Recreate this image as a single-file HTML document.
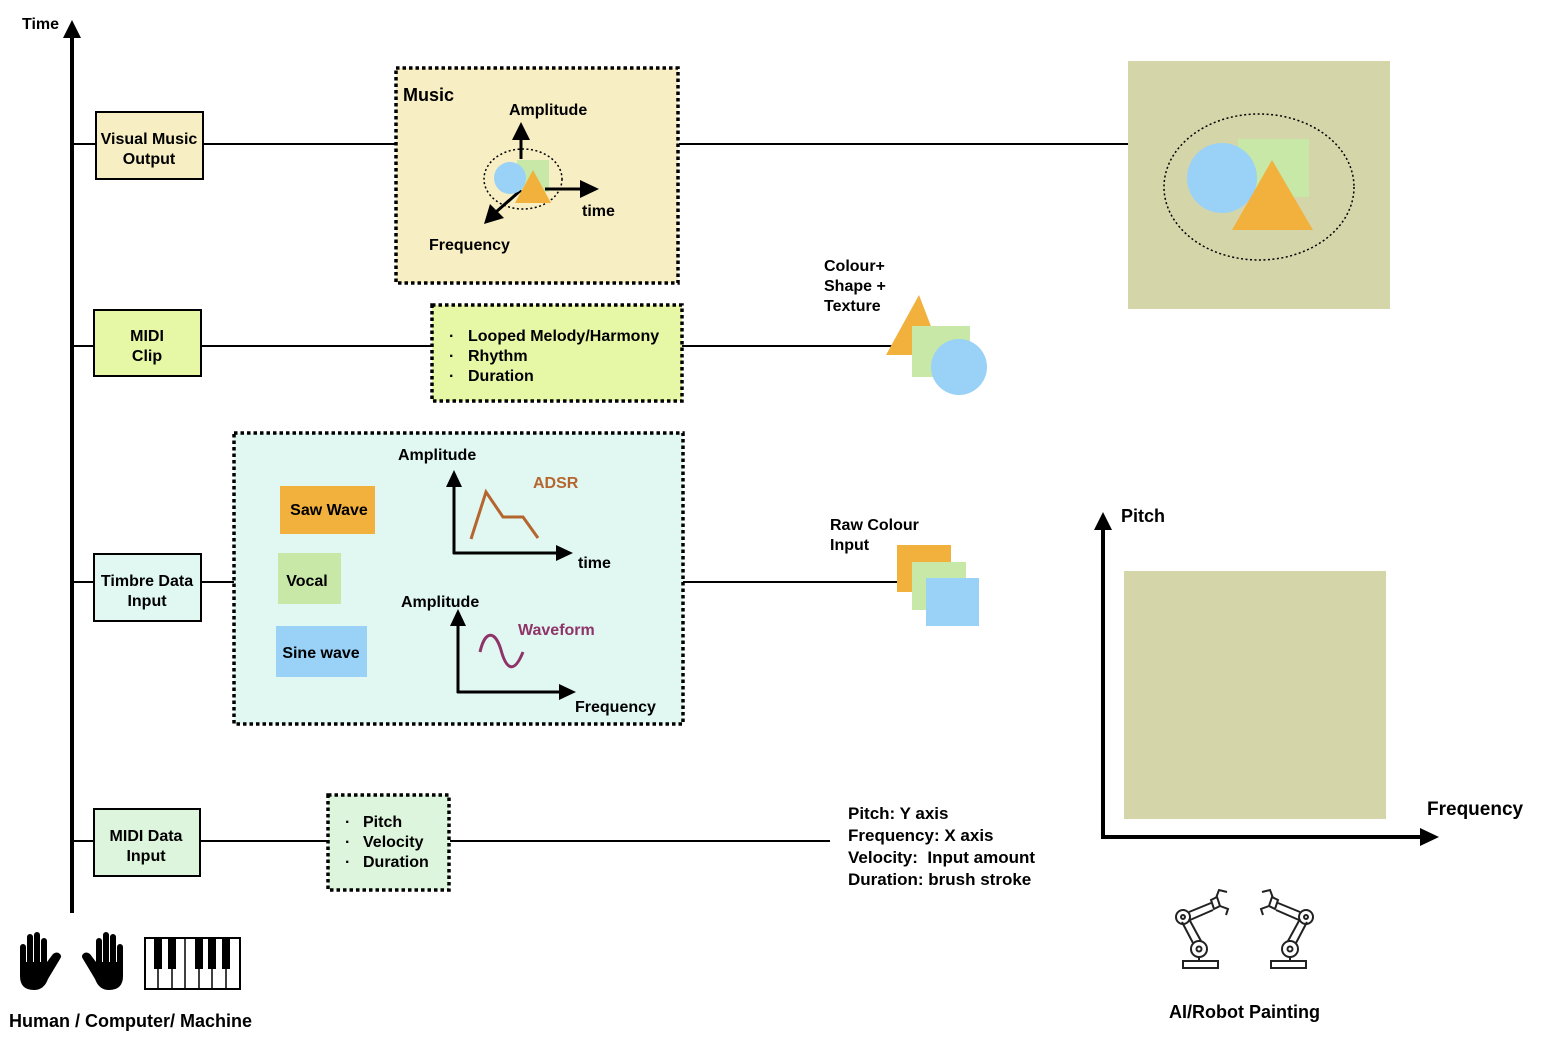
<!DOCTYPE html>
<html><head><meta charset="utf-8"><style>
html,body{margin:0;padding:0;background:#fff}
svg{display:block}
text{font-family:"Liberation Sans",sans-serif;font-weight:bold;fill:#000}
</style></head><body>
<svg width="1548" height="1050" viewBox="0 0 1548 1050" xmlns="http://www.w3.org/2000/svg">
<!-- Time axis -->
<line x1="72" y1="913" x2="72" y2="36" stroke="#000" stroke-width="4"/>
<polygon points="72,20 63,38 81,38" fill="#000"/>
<text x="22" y="29" font-size="16">Time</text>

<!-- connectors -->
<line x1="72" y1="144" x2="395" y2="144" stroke="#000" stroke-width="2"/>
<line x1="679" y1="144" x2="1128" y2="144" stroke="#000" stroke-width="2"/>
<line x1="72" y1="346" x2="432" y2="346" stroke="#000" stroke-width="2"/>
<line x1="682" y1="346" x2="892" y2="346" stroke="#000" stroke-width="2"/>
<line x1="72" y1="582" x2="234" y2="582" stroke="#000" stroke-width="2"/>
<line x1="683" y1="582" x2="897" y2="582" stroke="#000" stroke-width="2"/>
<line x1="72" y1="841" x2="327" y2="841" stroke="#000" stroke-width="2"/>
<line x1="450" y1="841" x2="830" y2="841" stroke="#000" stroke-width="2"/>

<!-- left boxes -->
<rect x="96" y="112" width="107" height="67" fill="#f7eec4" stroke="#000" stroke-width="2"/>
<text x="149" y="144" font-size="16" text-anchor="middle">Visual Music</text>
<text x="149" y="164" font-size="16" text-anchor="middle">Output</text>
<rect x="94" y="310" width="107" height="66" fill="#e6f7a6" stroke="#000" stroke-width="2"/>
<text x="147" y="341" font-size="16" text-anchor="middle">MIDI</text>
<text x="147" y="361" font-size="16" text-anchor="middle">Clip</text>
<rect x="94" y="554" width="107" height="67" fill="#e0f7f2" stroke="#000" stroke-width="2"/>
<text x="147" y="586" font-size="16" text-anchor="middle">Timbre Data</text>
<text x="147" y="606" font-size="16" text-anchor="middle">Input</text>
<rect x="94" y="809" width="106" height="67" fill="#dcf5dc" stroke="#000" stroke-width="2"/>
<text x="146" y="841" font-size="16" text-anchor="middle">MIDI Data</text>
<text x="146" y="861" font-size="16" text-anchor="middle">Input</text>

<!-- Music box -->
<rect x="396" y="68" width="282" height="215" fill="#f7eec4" stroke="#000" stroke-width="3.5" stroke-dasharray="3.5,3"/>
<text x="403" y="101" font-size="18">Music</text>
<text x="509" y="115" font-size="16">Amplitude</text>
<text x="582" y="216" font-size="16">time</text>
<text x="429" y="250" font-size="16">Frequency</text>
<rect x="517" y="160" width="32" height="32" fill="#c8e8a8"/>
<ellipse cx="523" cy="179" rx="39" ry="30" fill="none" stroke="#000" stroke-width="1.5" stroke-dasharray="2,2.5"/>
<line x1="521" y1="159" x2="521" y2="138" stroke="#000" stroke-width="3"/>
<polygon points="521,122 512,140 530,140" fill="#000"/>
<line x1="545" y1="189" x2="582" y2="189" stroke="#000" stroke-width="3"/>
<polygon points="599,189 580,180 580,198" fill="#000"/>
<line x1="521" y1="190" x2="496" y2="212" stroke="#000" stroke-width="3"/>
<polygon points="484,224 490,204 504,218" fill="#000"/>
<circle cx="510" cy="178" r="16" fill="#99d1f7"/>
<polygon points="533,170 515,203 551,203" fill="#f2b03c"/>

<!-- big painting -->
<rect x="1128" y="61" width="262" height="248" fill="#d5d5aa"/>
<rect x="1238" y="139" width="71" height="58" fill="#c8e8a8"/>
<circle cx="1222" cy="178" r="35" fill="#99d1f7"/>
<polygon points="1272,160 1232,230 1313,230" fill="#f2b03c"/>
<ellipse cx="1259" cy="187" rx="95" ry="73" fill="none" stroke="#000" stroke-width="1.5" stroke-dasharray="2,2.5"/>

<!-- MIDI clip box -->
<rect x="432" y="305" width="250" height="96" fill="#e6f7a6" stroke="#000" stroke-width="3.5" stroke-dasharray="3.5,3"/>
<text x="449" y="341" font-size="16">·</text><text x="468" y="341" font-size="16">Looped Melody/Harmony</text>
<text x="449" y="361" font-size="16">·</text><text x="468" y="361" font-size="16">Rhythm</text>
<text x="449" y="381" font-size="16">·</text><text x="468" y="381" font-size="16">Duration</text>

<!-- Colour shape texture -->
<text x="824" y="271" font-size="16">Colour+</text>
<text x="824" y="291" font-size="16">Shape +</text>
<text x="824" y="311" font-size="16">Texture</text>
<polygon points="919,295 886,355 942,355" fill="#f2b03c"/>
<rect x="912" y="326" width="58" height="51" fill="#c8e8a8"/>
<circle cx="959" cy="367" r="28" fill="#99d1f7"/>

<!-- Timbre box -->
<rect x="234" y="433" width="449" height="291" fill="#e0f7f2" stroke="#000" stroke-width="3.5" stroke-dasharray="3.5,3"/>
<rect x="280" y="486" width="95" height="48" fill="#f2b03c"/>
<text x="329" y="515" font-size="16" text-anchor="middle">Saw Wave</text>
<rect x="278" y="553" width="63" height="51" fill="#c8e8a8"/>
<text x="307" y="586" font-size="16" text-anchor="middle">Vocal</text>
<rect x="276" y="626" width="91" height="51" fill="#99d1f7"/>
<text x="321" y="658" font-size="16" text-anchor="middle">Sine wave</text>
<text x="398" y="460" font-size="16">Amplitude</text>
<line x1="454" y1="554" x2="454" y2="485" stroke="#000" stroke-width="3"/>
<polygon points="454,470 446,487 462,487" fill="#000"/>
<line x1="453" y1="553" x2="558" y2="553" stroke="#000" stroke-width="3"/>
<polygon points="573,553 556,545 556,561" fill="#000"/>
<text x="578" y="568" font-size="16">time</text>
<text x="533" y="488" font-size="16" style="fill:#b5652e">ADSR</text>
<polyline points="471,539 486,492 503,517 523,517 538,538" fill="none" stroke="#b5652e" stroke-width="3"/>
<text x="401" y="607" font-size="16">Amplitude</text>
<line x1="458" y1="693" x2="458" y2="625" stroke="#000" stroke-width="3"/>
<polygon points="458,609 450,626 466,626" fill="#000"/>
<line x1="457" y1="692" x2="560" y2="692" stroke="#000" stroke-width="3"/>
<polygon points="576,692 559,684 559,700" fill="#000"/>
<text x="575" y="712" font-size="16">Frequency</text>
<text x="518" y="635" font-size="16" style="fill:#8e3468">Waveform</text>
<path d="M480,652 C485,630 495,630 501,650 C507,672 515,672 523,652" fill="none" stroke="#8e3468" stroke-width="3"/>

<!-- Raw colour -->
<text x="830" y="530" font-size="16">Raw Colour</text>
<text x="830" y="550" font-size="16">Input</text>
<rect x="897" y="545" width="54" height="47" fill="#f2b03c"/>
<rect x="912" y="562" width="54" height="48" fill="#c8e8a8"/>
<rect x="926" y="578" width="53" height="48" fill="#99d1f7"/>

<!-- MIDI data box -->
<rect x="328" y="795" width="121" height="95" fill="#dcf5dc" stroke="#000" stroke-width="3.5" stroke-dasharray="3.5,3"/>
<text x="345" y="827" font-size="16">·</text><text x="363" y="827" font-size="16">Pitch</text>
<text x="345" y="847" font-size="16">·</text><text x="363" y="847" font-size="16">Velocity</text>
<text x="345" y="867" font-size="16">·</text><text x="363" y="867" font-size="16">Duration</text>

<text x="848" y="819" font-size="17">Pitch: Y axis</text>
<text x="848" y="841" font-size="17">Frequency: X axis</text>
<text x="848" y="863" font-size="17" xml:space="preserve">Velocity:  Input amount</text>
<text x="848" y="885" font-size="17">Duration: brush stroke</text>

<!-- Pitch/Frequency chart -->
<rect x="1124" y="571" width="262" height="248" fill="#d5d5aa"/>
<line x1="1103" y1="838" x2="1103" y2="528" stroke="#000" stroke-width="4"/>
<polygon points="1103,512 1094,530 1112,530" fill="#000"/>
<line x1="1101" y1="837" x2="1422" y2="837" stroke="#000" stroke-width="4"/>
<polygon points="1439,837 1420,828 1420,846" fill="#000"/>
<text x="1121" y="522" font-size="18">Pitch</text>
<text x="1427" y="815" font-size="19">Frequency</text>

<!-- hands -->
<g fill="#000">
<g>
<rect x="20" y="944" width="6" height="26" rx="3"/>
<rect x="27" y="934" width="6" height="34" rx="3"/>
<rect x="34" y="932" width="6" height="36" rx="3"/>
<rect x="41" y="938" width="6" height="30" rx="3"/>
<path d="M20,962 h27 l6,-8 q4,-3 7,0 q2,2 0,5 l-12,20 q-4,11 -14,11 q-14,0 -14,-14 z"/>
</g>
<g transform="translate(143,0) scale(-1,1)">
<rect x="20" y="944" width="6" height="26" rx="3"/>
<rect x="27" y="934" width="6" height="34" rx="3"/>
<rect x="34" y="932" width="6" height="36" rx="3"/>
<rect x="41" y="938" width="6" height="30" rx="3"/>
<path d="M20,962 h27 l6,-8 q4,-3 7,0 q2,2 0,5 l-12,20 q-4,11 -14,11 q-14,0 -14,-14 z"/>
</g>
</g>
<!-- piano -->
<g>
<rect x="145" y="938" width="95" height="51" fill="#fff" stroke="#000" stroke-width="2"/>
<g stroke="#000" stroke-width="1.5">
<line x1="158" y1="938" x2="158" y2="989"/><line x1="172" y1="938" x2="172" y2="989"/><line x1="185" y1="938" x2="185" y2="989"/><line x1="199" y1="938" x2="199" y2="989"/><line x1="212" y1="938" x2="212" y2="989"/><line x1="226" y1="938" x2="226" y2="989"/>
</g>
<g fill="#000">
<rect x="154" y="938" width="8" height="31"/><rect x="168" y="938" width="8" height="31"/><rect x="195" y="938" width="8" height="31"/><rect x="208" y="938" width="8" height="31"/><rect x="222" y="938" width="8" height="31"/>
</g>
</g>
<text x="9" y="1027" font-size="18">Human / Computer/ Machine</text>

<!-- robots -->
<g fill="none" stroke="#222" stroke-width="2">
<g>
<rect x="1183" y="961" width="35" height="7"/>
<circle cx="1199" cy="949" r="8"/><circle cx="1199" cy="949" r="2.5"/>
<path d="M1193,943 L1182,922 M1201,941 L1189,919"/>
<circle cx="1183" cy="917" r="7"/><circle cx="1183" cy="917" r="2"/>
<path d="M1189,912 L1211,903 M1190,920 L1213,910"/>
<path d="M1211,900 l6,-3 l3,9 l-6,3 z M1216,898 l3,-8 l8,2 M1220,906 l8,3 l-2,6"/>
<line x1="1199" y1="957" x2="1199" y2="961"/>
</g>
<g transform="translate(2489,0) scale(-1,1)">
<rect x="1183" y="961" width="35" height="7"/>
<circle cx="1199" cy="949" r="8"/><circle cx="1199" cy="949" r="2.5"/>
<path d="M1193,943 L1182,922 M1201,941 L1189,919"/>
<circle cx="1183" cy="917" r="7"/><circle cx="1183" cy="917" r="2"/>
<path d="M1189,912 L1211,903 M1190,920 L1213,910"/>
<path d="M1211,900 l6,-3 l3,9 l-6,3 z M1216,898 l3,-8 l8,2 M1220,906 l8,3 l-2,6"/>
<line x1="1199" y1="957" x2="1199" y2="961"/>
</g>
</g>
<text x="1169" y="1018" font-size="18">AI/Robot Painting</text>
</svg>
</body></html>
